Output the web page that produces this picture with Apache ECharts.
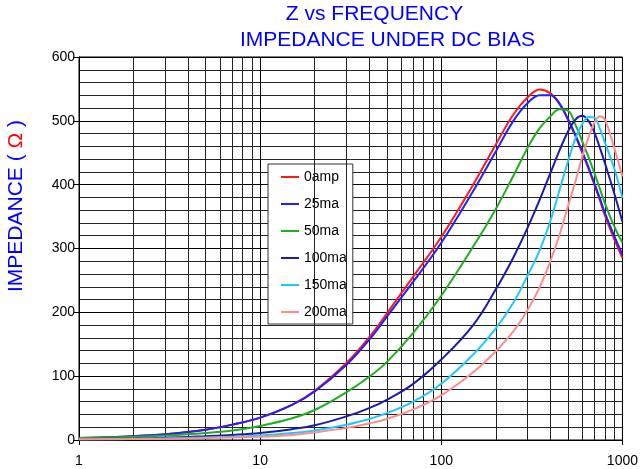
<!DOCTYPE html>
<html>
<head>
<meta charset="utf-8">
<script src="https://cdn.jsdelivr.net/npm/echarts@6/dist/echarts.min.js"></script>
<style>
html,body{margin:0;padding:0;background:#fff;}
#c{width:641px;height:469px;}
</style>
</head>
<body>
<div id="c"></div>
<script>
var titleLine1 = 'Z vs FREQUENCY';
var titleLine2 = 'IMPEDANCE UNDER DC BIAS';
var seriesNames = ['0amp', '25ma', '50ma', '100ma', '150ma', '200ma'];
var freq = [1,2,3,5,7,10,15,20,30,40,50,70,100,150,200,250,300,350,400,450,500,550,600,650,700,750,800,900,1000];
var z0amp  = [3,6,9,16,24,35,55,77,121,161,198,256,318,400,463,510,537,549,543,526,502,476,450,425,400,376,352,315,285];
var z25ma  = [3,6,9,16,24,35,55,76,118,157,193,248,309,390,452,500,528,540,540,527,503,478,452,427,402,379,356,320,290];
var z50ma  = [3,5,7,11,15,22,34,47,75,99,122,168,226,303,362,414,458,489,507,518,516,494,468,443,418,394,371,335,309];
var z100ma = [1.5,2.5,3.5,6,8,11,17,23,37,50,63,88,126,180,236,286,333,377,418,454,483,502,508,500,482,458,434,387,342];
var z150ma = [1,2,2.5,4,5,7,11,15,24,33,42,60,88,134,175,215,258,298,343,392,436,472,495,506,505,488,466,426,379];
var z200ma = [1,1.5,2,3,4,5,8,12,19,26,33,48,70,106,139,170,204,240,280,322,366,405,444,474,497,507,502,458,413];
var xTickLabels = ['1','10','100','1000'];
var minorFreqs = [2,3,4,5,6,7,8,9,20,30,40,50,60,70,80,90,200,300,400,500,600,700,800,900];

var values = [z0amp, z25ma, z50ma, z100ma, z150ma, z200ma];
var colors = ['#ff1a1a', '#1f1fff', '#1fae1f', '#1c1ca8', '#1fc8ff', '#ff8c8c'];

function pairs(v) { return freq.map(function (f, i) { return [f, v[i]]; }); }

var series = seriesNames.map(function (n, i) {
  return {
    name: n, type: 'line', data: pairs(values[i]), smooth: 0.4,
    showSymbol: false, symbol: 'none', z: 5,
    lineStyle: { color: colors[i], width: 2 },
    itemStyle: { color: colors[i] }
  };
});
series.push({
  name: 'minorGrid', type: 'line', data: [], silent: true, z: 1,
  markLine: {
    silent: true, symbol: ['none', 'none'], animation: false,
    label: { show: false },
    lineStyle: { color: '#222', width: 1, type: 'solid' },
    emphasis: { disabled: true },
    data: minorFreqs.map(function (f) { return { xAxis: f }; })
  }
});

var chart = echarts.init(document.getElementById('c'), null, { renderer: 'canvas' });
chart.setOption({
  animation: false,
  backgroundColor: '#fff',
  textStyle: { fontFamily: 'Liberation Sans, Arial, sans-serif' },
  grid: { left: 79, right: 16, top: 57, bottom: 29, show: true, borderColor: '#000', borderWidth: 1, backgroundColor: 'transparent' },
  graphic: [
    { type: 'text', x: 374.5, y: 14.5, style: { text: titleLine1, fill: '#0000ff', fontSize: 21, fontFamily: 'Liberation Sans, Arial, sans-serif', align: 'center', verticalAlign: 'middle' } },
    { type: 'text', x: 387.5, y: 40.5, style: { text: titleLine2, fill: '#0000ff', fontSize: 21, fontFamily: 'Liberation Sans, Arial, sans-serif', align: 'center', verticalAlign: 'middle' } },
    { type: 'text', x: 16, y: 206, rotation: Math.PI / 2,
      style: { text: '{b|IMPEDANCE ( }{r|Ω}{b| )}', align: 'center', verticalAlign: 'middle', fontSize: 21, fontFamily: 'Liberation Sans, Arial, sans-serif',
        rich: { b: { fill: '#0000ff', fontSize: 21, fontFamily: 'Liberation Sans, Arial, sans-serif' }, r: { fill: '#ff0000', fontSize: 21, fontFamily: 'Liberation Sans, Arial, sans-serif' } } } }
  ],
  legend: {
    data: seriesNames, orient: 'vertical', left: 268, top: 164,
    icon: 'rect', itemWidth: 18, itemHeight: 2, itemGap: 13,
    padding: [6, 6, 5, 13],
    backgroundColor: '#fff', borderColor: '#333', borderWidth: 1,
    textStyle: { fontSize: 14, color: '#000', lineHeight: 14, fontFamily: 'Liberation Sans, Arial, sans-serif' },
    selectedMode: false
  },
  xAxis: {
    type: 'log', logBase: 10, min: 1, max: 1000,
    axisLine: { show: true, lineStyle: { color: '#000', width: 1 } },
    axisTick: { show: true, length: 5, inside: false, lineStyle: { color: '#000' } },
    axisLabel: { fontSize: 14, color: '#000', margin: 14, formatter: function (v) { var i = Math.round(Math.log10(v)); return xTickLabels[i] !== undefined ? xTickLabels[i] : ''; } },
    splitLine: { show: true, lineStyle: { color: '#000', width: 1 } },
    minorTick: { show: false }, minorSplitLine: { show: false }
  },
  yAxis: {
    type: 'value', min: 0, max: 600, interval: 100,
    axisLine: { show: true, lineStyle: { color: '#000', width: 1 } },
    axisTick: { show: true, length: 6, inside: false, lineStyle: { color: '#000' } },
    axisLabel: { fontSize: 14, color: '#000', margin: 4 },
    splitLine: { show: true, lineStyle: { color: '#000', width: 1 } },
    minorTick: { show: false, splitNumber: 5 },
    minorSplitLine: { show: true, lineStyle: { color: '#222', width: 1 } }
  },
  series: series
});
</script>
</body>
</html>
